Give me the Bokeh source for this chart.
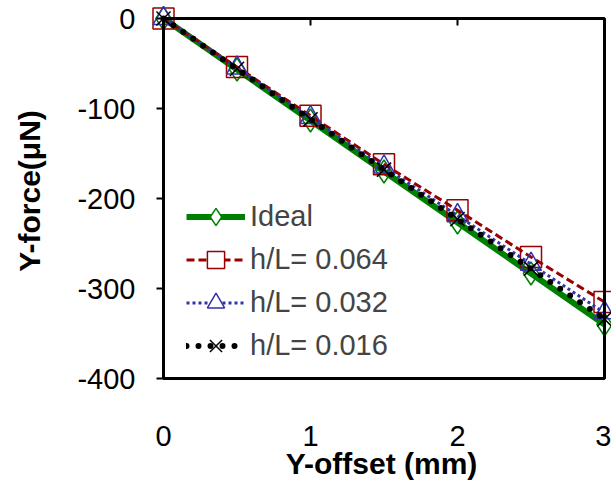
from bokeh.plotting import figure
from bokeh.models import (Range1d, LinearAxis, FixedTicker, BoxAnnotation,
                          Legend, LegendItem, ColumnDataSource, PrintfTickFormatter)
from bokeh.embed import file_html
from bokeh.resources import INLINE

# ---------------- data ----------------
x_offset = [0, 0.5, 1, 1.5, 2, 2.5, 3]
ideal = [0, -56.7, -113.3, -170, -226.7, -283.3, -340]
hl_064 = [0, -54, -108, -162, -213, -265, -315]
hl_032 = [0, -55, -110, -165, -219, -273, -327]
hl_016 = [0, -56, -112, -168, -223, -278, -334]
x_ticks = [0, 1, 2, 3]
y_ticks = [0, -100, -200, -300, -400]
series_labels = ["Ideal", "h/L= 0.064", "h/L= 0.032", "h/L= 0.016"]
x_title = "Y-offset (mm)"
y_title = "Y-force(\u03bcN)"

# ---------------- layout (screen px inside the canvas) ----------------
W, H = 611, 482
BOX_L, BOX_R = 163, 604      # x = 0 and x = 3
BOX_T, BOX_B = 18, 378       # y = 0 and y = -400
FRAME_L, FRAME_R = 151, 611
FRAME_T, FRAME_B = 0, 381
MIN_BOTTOM = 72

sx = (BOX_R - BOX_L) / (x_ticks[-1] - x_ticks[0])
sy = (BOX_B - BOX_T) / (y_ticks[0] - y_ticks[-1])
x_range = Range1d(x_ticks[0] - (BOX_L - FRAME_L) / sx, x_ticks[-1] + (FRAME_R - BOX_R) / sx)
y_range = Range1d(y_ticks[-1] - (FRAME_B - BOX_B) / sy, y_ticks[0] + (BOX_T - FRAME_T) / sy)

FONT = "Liberation Sans"

p = figure(width=W, height=H, x_range=x_range, y_range=y_range,
           output_backend="svg", toolbar_location=None,
           x_axis_location=None, y_axis_location=None,
           min_border_left=FRAME_L, min_border_right=W - FRAME_R,
           min_border_top=FRAME_T, min_border_bottom=MIN_BOTTOM)
p.outline_line_color = None
p.xgrid.visible = False
p.ygrid.visible = False
p.background_fill_color = "white"
p.border_fill_color = "white"

# y tick labels + y title
yaxis = LinearAxis(ticker=FixedTicker(ticks=y_ticks), axis_label=y_title,
                   formatter=PrintfTickFormatter(format="%d"))
yaxis.axis_line_color = None
yaxis.major_tick_line_color = None
yaxis.major_tick_out = 0
yaxis.major_tick_in = 0
yaxis.minor_tick_line_color = None
yaxis.major_label_standoff = 16
yaxis.major_label_text_font = FONT
yaxis.major_label_text_font_size = "29px"
yaxis.major_label_text_color = "black"
yaxis.axis_label_standoff = 28
yaxis.axis_label_text_font = FONT
yaxis.axis_label_text_font_size = "30px"
yaxis.axis_label_text_font_style = "bold"
yaxis.axis_label_text_color = "black"
p.add_layout(yaxis, "left")

# y tick marks on the x = 0 line
ytick = LinearAxis(ticker=FixedTicker(ticks=y_ticks), fixed_location=x_ticks[0])
ytick.axis_line_color = None
ytick.major_tick_out = 7
ytick.major_tick_in = 0
ytick.major_tick_line_width = 2
ytick.minor_tick_line_color = None
ytick.major_label_text_font_size = "0px"
ytick.major_label_standoff = 0
p.add_layout(ytick, "left")

# x tick labels + x title at the bottom
xaxis = LinearAxis(ticker=FixedTicker(ticks=x_ticks), axis_label=x_title,
                   formatter=PrintfTickFormatter(format="%d"))
xaxis.axis_line_color = None
xaxis.major_tick_line_color = None
xaxis.major_tick_out = 0
xaxis.major_tick_in = 0
xaxis.minor_tick_line_color = None
xaxis.major_label_standoff = 44
xaxis.major_label_text_font = FONT
xaxis.major_label_text_font_size = "29px"
xaxis.major_label_text_color = "black"
xaxis.axis_label_standoff = -2
xaxis.axis_label_text_font = FONT
xaxis.axis_label_text_font_size = "30px"
xaxis.axis_label_text_font_style = "bold"
xaxis.axis_label_text_color = "black"
p.add_layout(xaxis, "below")

# x tick marks on the y = 0 line, pointing down
taxis = LinearAxis(ticker=FixedTicker(ticks=x_ticks), fixed_location=y_ticks[0])
taxis.axis_line_color = None
taxis.major_tick_in = 7
taxis.major_tick_out = 0
taxis.major_tick_line_width = 2
taxis.minor_tick_line_color = None
taxis.major_label_text_font_size = "0px"
taxis.major_label_standoff = 0
p.add_layout(taxis, "above")

src = ColumnDataSource(dict(x=x_offset, ideal=ideal, h064=hl_064, h032=hl_032, h016=hl_016))

specs = [
    ("ideal", series_labels[0], "#008000", 6, "solid", "butt", "diamond", 23),
    ("h064", series_labels[1], "#990000", 3, "8 4", "butt", "square", 21),
    ("h032", series_labels[2], "#3333AA", 3, "3 3", "butt", "triangle", 21),
    ("h016", series_labels[3], "black", 6, "0 12", "round", "x", 20),
]

items = []
for key, lab, col, lw, dash, cap, mk, ms in specs:
    lr = p.line("x", key, source=src, line_color=col, line_width=lw,
                line_dash=dash, line_cap=cap)
    p.scatter("x", key, source=src, marker=mk, size=ms, line_color=col,
              fill_color=None, line_width=1.5)
    proxy = p.scatter("x", key, source=src, marker=mk, size=0, line_color=col,
                      fill_color="white", line_width=1.5)
    items.append(LegendItem(label=lab, renderers=[lr, proxy]))

box = BoxAnnotation(left=x_ticks[0], right=x_ticks[-1], bottom=y_ticks[-1], top=y_ticks[0],
                    fill_color=None, fill_alpha=0, line_color="black", line_alpha=1,
                    line_width=3)
p.add_layout(box)

legend = Legend(items=items, location=(35, 14), padding=0, margin=0, spacing=0,
                glyph_width=59, glyph_height=43, label_height=43, label_standoff=5,
                label_text_font=FONT, label_text_font_size="29px",
                border_line_color=None, background_fill_alpha=0)
p.add_layout(legend)

html = file_html(p, INLINE, title="Y-force vs Y-offset")
with open("out.html", "w", encoding="utf-8") as f:
    f.write(html)
